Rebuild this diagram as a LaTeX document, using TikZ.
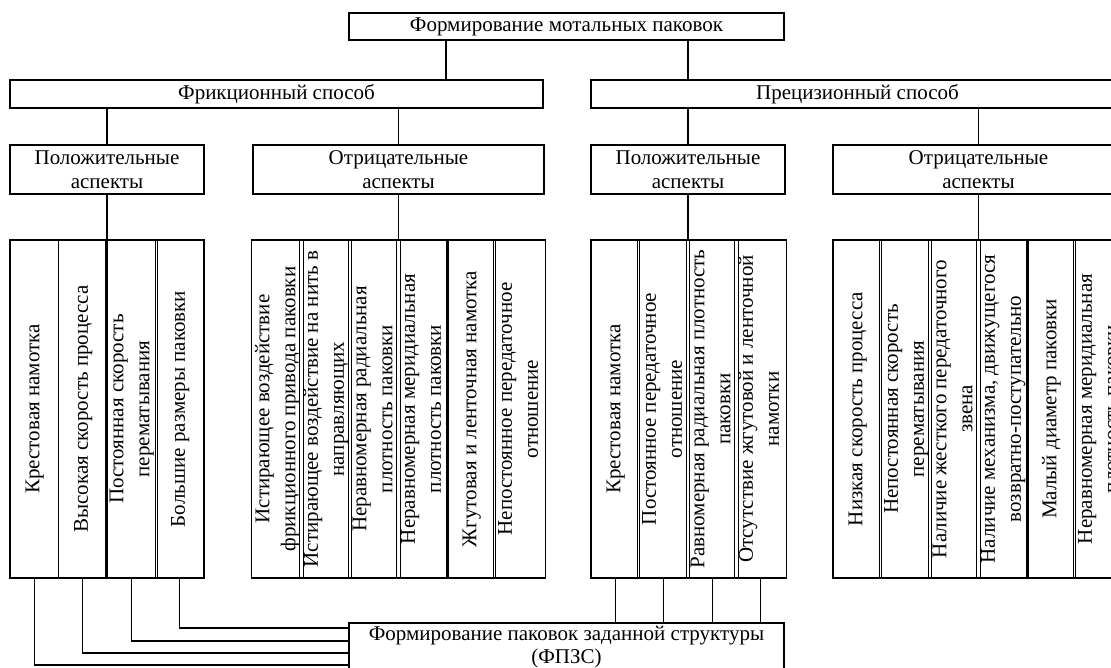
\documentclass[tikz,border=0pt]{standalone}
\usepackage{fontspec}
\setmainfont{Liberation Serif}
\newcommand{\colTxt}[1]{\rotatebox{90}{\begin{tabular}{@{}c@{}}#1\end{tabular}}}
\begin{document}
\begin{tikzpicture}[x=1pt,y=-1pt,
  box/.style={draw, line width=1.1pt, inner sep=0pt, align=center, font=\fontsize{21}{24}\selectfont},
  col/.style={draw, line width=1.1pt, inner sep=0pt, minimum width=48.5pt, minimum height=338pt, font=\fontsize{21}{26}\selectfont},
  wire/.style={line width=1.1pt}]
\useasboundingbox (0,0) rectangle (1111,668);
\clip (0,0) rectangle (1111,668);
\fill[white] (0,0) rectangle (1111,668);
% top levels
\node[box, minimum width=435pt, minimum height=27pt] (top) at (566.5,26.5) {Формирование мотальных паковок};
\node[box, minimum width=533pt, minimum height=28pt] (fr) at (276.5,94) {Фрикционный способ};
\node[box, minimum width=533pt, minimum height=28pt] (pr) at (857.5,94) {Прецизионный способ};
\node[box, minimum width=194pt, minimum height=49pt] (pos1) at (107,169.5) {Положительные\\аспекты};
\node[box, minimum width=291pt, minimum height=49pt] (neg1) at (398.5,169.5) {Отрицательные\\аспекты};
\node[box, minimum width=194pt, minimum height=49pt] (pos2) at (688,169.5) {Положительные\\аспекты};
\node[box, minimum width=291pt, minimum height=49pt] (neg2) at (978.5,169.5) {Отрицательные\\аспекты};
% left positive columns
\node[col] (a1) at (34.25,409) {\colTxt{Крестовая намотка}};
\node[col] (a2) at (82.75,409) {\colTxt{Высокая скорость процесса}};
\node[col] (a3) at (131.25,409) {\colTxt{Постоянная скорость\\перематывания}};
\node[col] (a4) at (179.75,409) {\colTxt{Большие размеры паковки}};
% left negative columns
\node[col] (b1) at (277.25,409) {\colTxt{Истирающее воздействие\\фрикционного привода паковки}};
\node[col] (b2) at (325.75,409) {\colTxt{Истирающее воздействие на нить в\\направляющих}};
\node[col] (b3) at (374.25,409) {\colTxt{Неравномерная радиальная\\плотность паковки}};
\node[col] (b4) at (422.75,409) {\colTxt{Неравномерная меридиальная\\плотность паковки}};
\node[col] (b5) at (471.25,409) {\colTxt{Жгутовая и ленточная намотка}};
\node[col] (b6) at (519.75,409) {\colTxt{Непостоянное передаточное\\отношение}};
% right positive columns
\node[col] (c1) at (615.25,409) {\colTxt{Крестовая намотка}};
\node[col] (c2) at (663.75,409) {\colTxt{Постоянное передаточное\\отношение}};
\node[col] (c3) at (712.25,409) {\colTxt{Равномерная радиальная плотность\\паковки}};
\node[col] (c4) at (760.75,409) {\colTxt{Отсутствие жгутовой и ленточной\\намотки}};
% right negative columns
\node[col] (d1) at (857.25,409) {\colTxt{Низкая скорость процесса}};
\node[col] (d2) at (905.75,409) {\colTxt{Непостоянная скорость\\перематывания}};
\node[col] (d3) at (954.25,409) {\colTxt{Наличие жесткого передаточного\\звена}};
\node[col] (d4) at (1002.75,409) {\colTxt{Наличие механизма, движущегося\\возвратно-поступательно}};
\node[col] (d5) at (1051.25,409) {\colTxt{Малый диаметр паковки}};
\node[col] (d6) at (1099.75,409) {\colTxt{Неравномерная меридиальная\\плотность паковки}};
% bottom box
\node[box, minimum width=435pt, minimum height=48pt, font=\fontsize{21}{23}\selectfont] (ff) at (566.5,647) {Формирование паковок заданной структуры\\(ФПЗС)};
% connectors
\draw[wire] (top.south -| 446,0) -- (fr.north -| 446,0);
\draw[wire] (top.south -| pos2.north) -- (pr.north -| pos2.north);
\draw[wire] (fr.south -| pos1.north) -- (pos1.north);
\draw[wire] (fr.south -| neg1.north) -- (neg1.north);
\draw[wire] (pr.south -| pos2.north) -- (pos2.north);
\draw[wire] (pr.south -| neg2.north) -- (neg2.north);
\draw[wire] (pos1.south) -- (pos1.south |- a1.north);
\draw[wire] (neg1.south) -- (neg1.south |- b1.north);
\draw[wire] (pos2.south) -- (pos2.south |- c1.north);
\draw[wire] (neg2.south) -- (neg2.south |- d1.north);
\draw[wire] (a1.south) |- (ff.west |- 0,665);
\draw[wire] (a2.south) |- (ff.west |- 0,653);
\draw[wire] (a3.south) |- (ff.west |- 0,641);
\draw[wire] (a4.south) |- (ff.west |- 0,628);
\draw[wire] (c1.south) -- (c1.south |- ff.north);
\draw[wire] (c2.south) -- (c2.south |- ff.north);
\draw[wire] (c3.south) -- (c3.south |- ff.north);
\draw[wire] (c4.south) -- (c4.south |- ff.north);
\end{tikzpicture}
\end{document}
